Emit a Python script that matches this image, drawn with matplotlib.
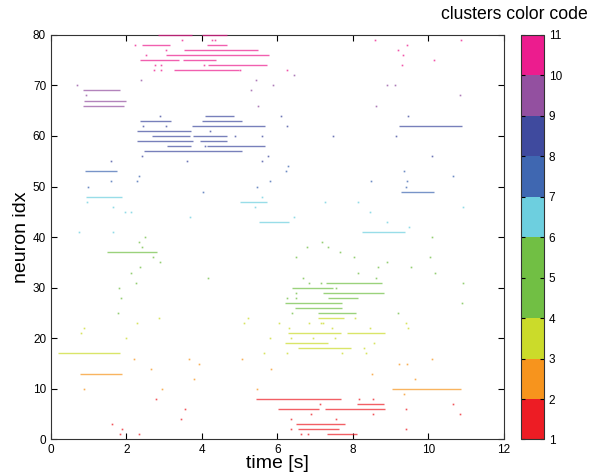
import numpy as np
import matplotlib
matplotlib.use('Agg')
import matplotlib.pyplot as plt
from matplotlib.colors import ListedColormap, BoundaryNorm
from matplotlib.colorbar import ColorbarBase

plt.rcParams['font.family'] = ['Liberation Sans', 'DejaVu Sans']

# cluster colours (colorbar 1..11) and first neuron of each cluster
cluster_colors = ['#ED1C24', '#F7941D', '#CBDB2A', '#71BF44', '#71BF44',
                  '#6DCFDF', '#3F67B1', '#3F4A9E', '#9350A0', '#EC1C8E']
cluster_start = [1, 9, 17, 25, 33, 41, 49, 55, 65, 73]

# bursts: neuron idx, start [s], end [s]
seg_neuron = [80, 80, 78, 78, 77, 76, 75, 75, 74, 73,
              69, 67, 66,
              64, 63, 63, 62, 62, 61, 60, 60, 59, 59, 58, 58, 57,
              53, 49,
              48, 47, 43, 41,
              37, 31, 30, 29, 28, 27, 26, 25,
              24, 21, 21, 19, 18, 17,
              13, 10,
              8, 7, 6, 6, 3, 2, 1]
seg_start = [2.83, 4.00, 2.40, 4.12, 3.52, 3.04, 2.35, 3.50, 4.16, 3.25,
             0.85, 0.88, 0.85,
             4.07, 2.37, 4.00, 3.74, 9.21, 2.29, 2.68, 3.75, 2.29, 3.94, 3.08, 4.12, 2.47,
             0.90, 9.27,
             0.92, 5.00, 5.50, 8.24,
             1.49, 7.28, 6.39, 7.21, 7.34, 6.21, 6.46, 7.08,
             7.07, 6.27, 7.84, 6.21, 6.55, 0.19,
             0.76, 9.04,
             5.43, 8.11, 6.01, 7.27, 6.48, 6.55, 7.31]
seg_end = [3.73, 4.67, 3.15, 4.65, 5.49, 5.77, 3.40, 4.38, 5.71, 4.97,
           1.84, 2.00, 1.94,
           4.85, 3.17, 5.07, 5.68, 10.90, 3.70, 3.68, 4.65, 3.77, 4.65, 3.70, 5.66, 5.07,
           1.74, 10.14,
           1.87, 5.72, 6.30, 9.37,
           2.82, 8.78, 7.47, 8.82, 8.13, 7.70, 7.72, 8.09,
           7.76, 7.67, 8.84, 7.34, 7.96, 1.84,
           1.89, 10.87,
           7.67, 8.82, 7.10, 8.86, 7.78, 7.62, 8.10]

# single spikes: neuron idx -> times [s]
spikes = {
    79: [3.47, 4.26, 4.34, 8.58, 10.85],
    78: [2.22, 9.42],
    77: [3.06, 9.19],
    76: [2.51, 9.32],
    75: [10.15],
    74: [2.75, 2.91, 4.06, 9.31],
    73: [2.72, 2.91, 5.02, 6.24],
    72: [6.45],
    71: [2.39, 5.44],
    70: [0.70, 5.88, 8.89, 9.11],
    69: [5.31],
    68: [0.94, 10.83],
    66: [5.49, 8.60],
    64: [2.88, 6.09, 9.45],
    62: [2.44, 3.06, 6.26],
    61: [4.22],
    60: [4.87, 5.58, 7.46, 9.15],
    58: [4.07],
    56: [2.41, 5.75, 10.10],
    55: [1.60, 3.59, 5.58],
    54: [6.28],
    53: [6.23, 9.35],
    52: [2.33, 10.65],
    51: [1.60, 2.29, 5.81, 8.49, 9.42],
    50: [0.97, 5.47, 9.41],
    49: [4.03],
    48: [5.58],
    47: [0.96, 7.25, 8.14],
    46: [1.65, 5.40, 10.92],
    45: [1.95, 2.11, 8.46],
    44: [3.68, 6.45],
    43: [8.89],
    42: [9.48],
    41: [0.74, 1.63],
    40: [2.48, 10.08],
    39: [2.33, 7.17],
    38: [2.40, 6.77, 7.35],
    37: [7.65],
    36: [2.71, 6.48, 8.04, 10.03],
    35: [2.90, 8.89],
    34: [2.35, 8.67, 9.53],
    33: [2.13, 8.14, 10.16],
    32: [4.15, 6.67, 8.60],
    31: [2.26, 6.84, 7.15, 10.92],
    30: [1.80, 7.56],
    29: [6.49],
    28: [1.85, 6.26, 6.50],
    27: [10.90],
    25: [1.77, 6.38, 9.19],
    24: [2.86, 5.23, 8.05],
    23: [2.27, 5.11, 6.03, 6.83, 7.14, 7.21, 9.40],
    22: [0.88, 6.30, 7.44, 8.46, 9.45],
    21: [0.79],
    20: [2.00, 5.80, 6.37, 6.94, 7.52],
    19: [8.55],
    18: [8.29],
    17: [5.63, 6.26, 7.72, 8.34],
    16: [2.19, 3.66, 5.07, 10.09],
    15: [3.92, 9.22, 9.43],
    14: [2.64, 5.84],
    13: [8.51],
    12: [3.79, 9.63],
    10: [0.88, 2.93, 5.47],
    9: [9.35],
    8: [2.78, 8.15, 8.53],
    7: [7.12, 10.64],
    6: [3.54, 9.40],
    5: [6.88, 8.53, 10.84],
    4: [3.45, 6.35, 7.54],
    3: [1.61],
    2: [1.87, 6.37, 9.41],
    1: [1.82, 2.32, 6.61, 6.82],
}


def color_of(n):
    k = np.searchsorted(cluster_start, n, side='right') - 1
    return cluster_colors[k]


fig = plt.figure(figsize=(5.97, 4.76), dpi=100)
ax = fig.add_axes([0.0854, 0.0767, 0.7588, 0.8503])

for n, t0, t1 in zip(seg_neuron, seg_start, seg_end):
    ax.plot([t0, t1], [n, n], color=color_of(n), lw=1.0, alpha=0.7,
            solid_capstyle='butt', clip_on=False, zorder=3)

for n, ts in spikes.items():
    ax.plot(ts, [n] * len(ts), ls='none', marker='s', ms=1.2, mew=0,
            color=color_of(n), alpha=0.75)

ax.set_xlim(0, 12)
ax.set_ylim(0, 80)
ax.set_xticks(np.arange(0, 13, 2))
ax.set_yticks(np.arange(0, 81, 10))
ax.tick_params(direction='in', top=True, right=True, labelsize=8.5, length=4)
ax.set_xlabel('time [s]', fontsize=14, labelpad=-1)
ax.set_ylabel('neuron idx', fontsize=14, labelpad=2)
for s in ax.spines.values():
    s.set_color('#333333')

# colorbar
cax = fig.add_axes([0.8727, 0.0767, 0.0385, 0.8503])
cmap = ListedColormap(cluster_colors)
norm = BoundaryNorm(np.arange(1, 12), cmap.N)
cb = ColorbarBase(cax, cmap=cmap, norm=norm, ticks=np.arange(1, 12))
cb.outline.set_color('#333333')
cax.tick_params(direction='in', labelsize=8.5, length=3, left=True)
fig.text(0.985, 0.952, 'clusters color code', ha='right', va='bottom', fontsize=12.7)

plt.savefig('out.png', dpi=100)
